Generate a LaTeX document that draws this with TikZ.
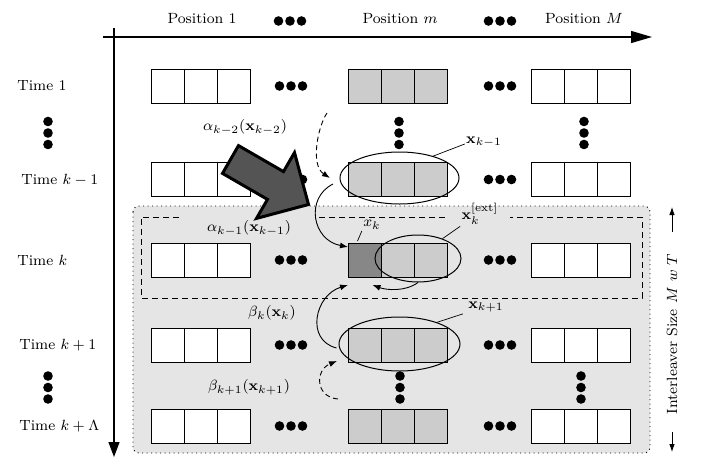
\RequirePackage{fix-cm}
\documentclass[tikz,border=0pt]{standalone}
\usetikzlibrary{arrows.meta,shapes.geometric}

% one row of three cells, named #1-1 .. #1-3
\newcommand\boxrow[6]{%
  \node[#4] (#1-1) at (#2,#3) {};
  \node[#5,anchor=west] (#1-2) at (#1-1.east) {};
  \node[#6,anchor=west] (#1-3) at (#1-2.east) {};}
% three dots side by side / stacked
\newcommand\dotsrow[2]{\foreach \d in {-11.5,0,11.5}{\fill (#1+\d,#2) circle (4.8pt);}}
\newcommand\dotscol[2]{\foreach \d in {-11.5,0,11.5}{\fill (#1,#2+\d) circle (4.8pt);}}

\begin{document}
\begin{tikzpicture}[x=1pt,y=-1pt,
  every node/.style={inner sep=1pt},
  txt/.style={font=\fontsize{8}{9.6}\selectfont,scale=1.85,inner sep=0.6pt},
  cell/.style={draw,fill=white,line width=0.8pt,minimum width=33pt,minimum height=34pt,inner sep=0pt,outer sep=0pt},
  lite/.style={cell,fill=black!20},
  deep/.style={cell,fill=black!47},
  oval/.style={ellipse,draw,line width=1pt,inner sep=0pt},
  ptr/.style={line width=0.7pt},
  flow/.style={line width=0.9pt,-{Latex[length=8pt,width=6pt]}},
  dashbox/.style={line width=0.8pt,dash pattern=on 6pt off 4pt},
  axis/.style={line width=1.2pt}]
\useasboundingbox (0,0) rectangle (702,458);

% shaded interleaver block and the dashed window of time k
\draw[fill=black!10,line width=0.9pt,dash pattern=on 1pt off 3.5pt,rounded corners=6pt]
  (133,206) rectangle (650,453);
\draw[dashbox] (179,217) -- (141,217) -- (141,298) -- (642,298) -- (642,217) -- (510,217);
\draw[dashbox] (319,217) -- (447,217);

% axes
\coordinate (ox0) at (103,37); \coordinate (ox1) at (652,37);
\coordinate (oy0) at (114,28); \coordinate (oy1) at (114,457);
\draw[axis,-{Triangle[length=21pt,width=12pt]}] (ox0) -- (ox1);
\draw[axis,-{Triangle[length=15pt,width=11pt]}] (oy0) -- (oy1);

% column headers
\node[txt] (h1) at (202,19) {Position 1};
\node[txt] (hm) at (400,19) {Position $m$};
\node[txt] (hM) at (584,19) {Position $M$};
\dotsrow{290}{21}
\dotsrow{500}{21}

% row labels
\node[txt,anchor=west] (t1) at (16,86) {Time 1};
\node[txt,anchor=west] (t2) at (20,180) {Time $k-1$};
\node[txt,anchor=west] (t3) at (16,260) {Time $k$};
\node[txt,anchor=west] (t4) at (18,345) {Time $k+1$};
\node[txt,anchor=west] (t5) at (18,426) {Time $k+\Lambda$};
\dotscol{48}{133}
\dotscol{48}{387.5}

% the cell rows
\foreach \r/\y in {r1/86,r2/179.5,r3/260,r4/345,r5/426}{
  \boxrow{\r a}{167.5}{\y}{cell}{cell}{cell}
  \boxrow{\r z}{547.5}{\y}{cell}{cell}{cell}
  \dotsrow{291}{\y}
  \dotsrow{500}{\y}
}
\boxrow{r1m}{364.5}{86}{lite}{lite}{lite}
\boxrow{r2m}{364.5}{179.5}{lite}{lite}{lite}
\boxrow{r3m}{364.5}{260}{deep}{lite}{lite}
\boxrow{r4m}{364.5}{345}{lite}{lite}{lite}
\boxrow{r5m}{364.5}{426}{lite}{lite}{lite}
\dotscol{399}{133}
\dotscol{584}{133}
\dotscol{400}{387.5}
\dotscol{581}{387.5}

% state groups
\node[oval,minimum width=119pt,minimum height=52pt] (e2) at (399.5,178) {};
\node[oval,minimum width=86pt,minimum height=47pt] (e3) at (418,258.5) {};
\node[oval,minimum width=121pt,minimum height=54pt] (e4) at (399.5,344) {};

% metric labels
\node[txt] (a2) at (245,127) {$\alpha_{k-2}(\mathbf{x}_{k-2})$};
\node[txt] (a1) at (249,228) {$\alpha_{k-1}(\mathbf{x}_{k-1})$};
\node[txt] (b0) at (272,313) {$\beta_k(\mathbf{x}_k)$};
\node[txt] (b1) at (249,387) {$\beta_{k+1}(\mathbf{x}_{k+1})$};
\node[txt] (lx2) at (484,142) {$\mathbf{x}_{k-1}$};
\node[txt] (lxe) at (480,214) {$\mathbf{x}_k^{[\mathrm{ext}]}$};
\node[txt] (lxk) at (372,225) {$x_k$};
\node[txt] (lx4) at (486,307) {$\mathbf{x}_{k+1}$};

\draw[ptr] (e2.33) -- ([yshift=-2pt]lx2.west);
\draw[ptr] (e3.39) -- (lxe.south west);
\draw[ptr] ([xshift=-7pt,yshift=2pt]r3m-1.north) -- (lxk.south west);
\draw[ptr] (e4.30) -- ([xshift=-4pt]lx4.south west);

% recursions
\coordinate (d1s) at (327,113);
\coordinate (d1e) at (330,178);
\coordinate (s1s) at (333,184);
\coordinate (d2s) at (338,399);
\coordinate (d2e) at (337,361);
\draw[flow,dash pattern=on 5pt off 3.5pt] (d1s) .. controls (318,126) and (310,165) .. (d1e);
\draw[flow] (s1s) .. controls (305,198) and (312,240) .. ([yshift=-4pt]r3m-1.north west);
\draw[flow] (e3.south) .. controls (405,292) and (386,290) .. ([xshift=8pt,yshift=-8pt]r3m-1.south);
\draw[flow] ([xshift=-2pt,yshift=-4pt]e4.west) .. controls (305,340) and (315,295) .. ([yshift=-8pt]r3m-1.south west);
\draw[flow,dash pattern=on 5pt off 3.5pt] (d2s) .. controls (315,397) and (315,370) .. (d2e);

% interleaver extent
\node[txt,rotate=90] (il) at (672,334) {Interleaver Size $M$ $w$ $T$};
\coordinate (ia0) at (672,232); \coordinate (ia1) at (672,207);
\coordinate (ib0) at (672,432); \coordinate (ib1) at (672,452);
\draw[line width=0.8pt,-{Latex[length=8pt,width=5.5pt]}] (ia0) -- (ia1);
\draw[line width=0.8pt,-{Latex[length=8pt,width=5.5pt]}] (ib0) -- (ib1);

% block arrow
\draw[line width=3pt,fill=black!67,line join=miter]
  (238.5,145.6) -- (283.5,171.6) -- (294.5,152.6) -- (308.5,204.5)
  -- (256.5,218.4) -- (267.5,199.4) -- (222.5,173.4) -- cycle;
\end{tikzpicture}
\end{document}
